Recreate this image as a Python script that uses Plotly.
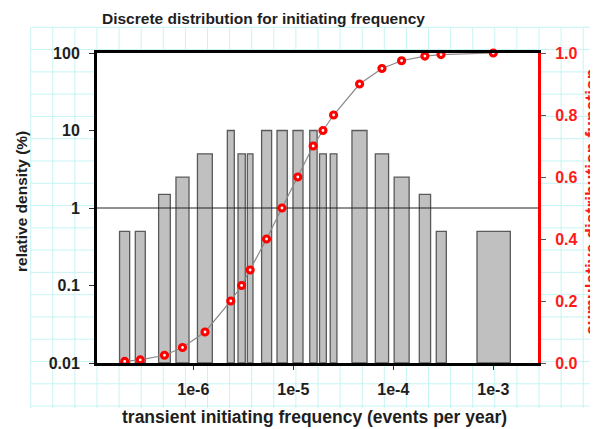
import numpy as np
import plotly.graph_objects as go

# ---------------- data ----------------
# discrete bins: lower / upper frequency bound (events per year) and relative density (%)
bin_lo = [1.83e-7, 2.63e-7, 4.50e-7, 6.71e-7, 1.10e-6, 2.19e-6, 2.80e-6, 3.47e-6, 4.82e-6, 6.87e-6,
          9.93e-6, 1.46e-5, 1.83e-5, 2.34e-5, 3.86e-5, 6.61e-5, 1.02e-4, 1.82e-4, 2.69e-4, 6.87e-4]
bin_hi = [2.31e-7, 3.31e-7, 5.89e-7, 9.06e-7, 1.55e-6, 2.57e-6, 3.31e-6, 3.95e-6, 6.07e-6, 8.71e-6,
          1.25e-5, 1.73e-5, 2.14e-5, 2.73e-5, 5.46e-5, 8.97e-5, 1.44e-4, 2.36e-4, 3.39e-4, 1.48e-3]
density = [0.5, 0.5, 1.5, 2.5, 5, 10, 5, 5, 10, 10,
           10, 10, 5, 5, 10, 5, 2.5, 1.5, 0.5, 0.5]

# cumulative distribution function points
cdf_freq = [2.06e-7, 2.95e-7, 5.15e-7, 7.8e-7, 1.31e-6, 2.37e-6, 3.04e-6, 3.7e-6, 5.4e-6, 7.7e-6,
            1.11e-5, 1.58e-5, 1.98e-5, 2.53e-5, 4.6e-5, 7.7e-5, 1.21e-4, 2.07e-4, 3.0e-4, 1.0e-3]
cdf_val = [0.005, 0.01, 0.025, 0.05, 0.10, 0.20, 0.25, 0.30, 0.40, 0.50,
           0.60, 0.70, 0.75, 0.80, 0.90, 0.95, 0.975, 0.99, 0.995, 1.0]

x_tickvals = [1e-6, 1e-5, 1e-4, 1e-3]
x_ticktext = ["1e-6", "1e-5", "1e-4", "1e-3"]
y_tickvals = [0.01, 0.1, 1, 10, 100]
y_ticktext = ["0.01", "0.1", "1", "10", "100"]
y2_tickvals = [0.0, 0.2, 0.4, 0.6, 0.8, 1.0]
y2_ticktext = ["0.0", "0.2", "0.4", "0.6", "0.8", "1.0"]

title = "Discrete distribution for initiating frequency"
x_title = "transient initiating frequency (events per year)"
y_title = "relative density (%)"
y2_title = "cumulative distribution function"

# ---------------- layout geometry ----------------
# the page body adds an 8 px margin, so window pixel = figure pixel + 8
OFF = 8
W, H = 598, 429
Lw, Rw, Tw, Bw = 97, 538, 53, 363     # plot area in window pixels
L, R, T, B = Lw - OFF, Rw - OFF, Tw - OFF, Bw - OFF
x_range = [-6.963, -2.553]            # log10 range
y_range = [-2, 2]
y_floor = 10 ** y_range[0]

FONT = "Liberation Sans, Arial, sans-serif"
DARK = "#1e1e1e"


def px_x(p):
    """window x pixel -> paper fraction"""
    return (p - OFF - L) / (R - L)


def px_y(p):
    """window y pixel -> paper fraction"""
    return (B - (p - OFF)) / (B - T)


# bars as closed rectangles on the log axes
bx, by = [], []
for lo, hi, v in zip(bin_lo, bin_hi, density):
    bx += [lo, lo, hi, hi, lo, None]
    by += [y_floor, v, v, y_floor, y_floor, None]

fig = go.Figure()
fig.add_trace(go.Scatter(
    x=bx, y=by, mode="lines", fill="toself", fillcolor="#c0c0c0",
    line=dict(color="#5a5a5a", width=1.3), hoverinfo="skip", showlegend=False))

# reference line at 1 %
fig.add_trace(go.Scatter(
    x=[10 ** x_range[0], 10 ** x_range[1]], y=[1, 1], mode="lines",
    line=dict(color="#222222", width=1), hoverinfo="skip", showlegend=False))

fig.add_trace(go.Scatter(
    x=cdf_freq, y=cdf_val, yaxis="y2", mode="lines+markers",
    line=dict(color="#8a8a8a", width=1.2),
    marker=dict(symbol="circle", size=6, color="white", line=dict(color="#ff0000", width=3.2)),
    cliponaxis=False, showlegend=False))

# background "paper" grid (cyan cells), covered by a white plot area
shapes = []
gx0, gdx, gnx = 30.7, 22.1, 26
gy0, gdy, gny = 27.3, 22.28, 18
for k in range(gnx):
    xp = gx0 + k * gdx
    shapes.append(dict(type="line", xref="paper", yref="paper", layer="below",
                       x0=px_x(xp), x1=px_x(xp), y0=px_y(gy0), y1=px_y(408),
                       line=dict(color="#c6f4f4", width=1)))
for k in range(gny):
    yp = gy0 + k * gdy
    shapes.append(dict(type="line", xref="paper", yref="paper", layer="below",
                       x0=px_x(gx0), x1=px_x(W + 4), y0=px_y(yp), y1=px_y(yp),
                       line=dict(color="#c6f4f4", width=1)))
shapes.append(dict(type="rect", xref="paper", yref="paper", layer="below",
                   x0=0, x1=1, y0=0, y1=1, fillcolor="white", line=dict(width=0)))

tickfont = dict(family=FONT, size=16, color=DARK, weight="bold")

fig.update_layout(
    width=W, height=H, autosize=False,
    margin=dict(l=L, r=W - R, t=T, b=H - B, pad=0),
    paper_bgcolor="white", plot_bgcolor="rgba(0,0,0,0)",
    shapes=shapes,
    showlegend=False,
    xaxis=dict(type="log", range=x_range, tickvals=x_tickvals, ticktext=x_ticktext,
               showgrid=False, zeroline=False, showline=True, linecolor="black", linewidth=3,
               mirror=True, ticks="outside", ticklen=4, tickcolor="#333", tickwidth=1,
               tickfont=tickfont, ticklabelstandoff=6, automargin=False),
    yaxis=dict(type="log", range=y_range, tickvals=y_tickvals, ticktext=y_ticktext,
               showgrid=False, zeroline=False, showline=True, linecolor="black", linewidth=3,
               ticks="outside", ticklen=5, tickcolor="#333", tickwidth=1,
               tickfont=tickfont, ticklabelstandoff=6, automargin=False),
    yaxis2=dict(overlaying="y", side="right", range=[0, 1], tickvals=y2_tickvals,
                ticktext=y2_ticktext, showgrid=False, zeroline=False, showline=True,
                linecolor="#ff0000", linewidth=3, ticks="outside", ticklen=5,
                tickcolor="#555", tickwidth=1,
                tickfont=dict(family=FONT, size=16, color="#ff1a1a", weight="bold"),
                ticklabelstandoff=6, automargin=False),
    annotations=[
        dict(text=title, xref="paper", yref="paper", x=px_x(263), y=px_y(18),
             xanchor="center", yanchor="middle", showarrow=False,
             font=dict(family=FONT, size=15.5, color=DARK, weight="bold")),
        dict(text=x_title, xref="paper", yref="paper", x=px_x(314.5), y=px_y(416.5),
             xanchor="center", yanchor="middle", showarrow=False,
             font=dict(family=FONT, size=17.5, color=DARK, weight="bold")),
        dict(text=y_title, xref="paper", yref="paper", x=px_x(21.5), y=px_y(201.5),
             xanchor="center", yanchor="middle", showarrow=False, textangle=-90,
             font=dict(family=FONT, size=15.5, color=DARK, weight="bold")),
        dict(text=y2_title, xref="paper", yref="paper", x=px_x(592), y=px_y(202),
             xanchor="center", yanchor="middle", showarrow=False, textangle=-90,
             font=dict(family=FONT, size=17.5, color="#ff1a1a", weight="bold")),
    ],
)

fig.write_html("out.html")
